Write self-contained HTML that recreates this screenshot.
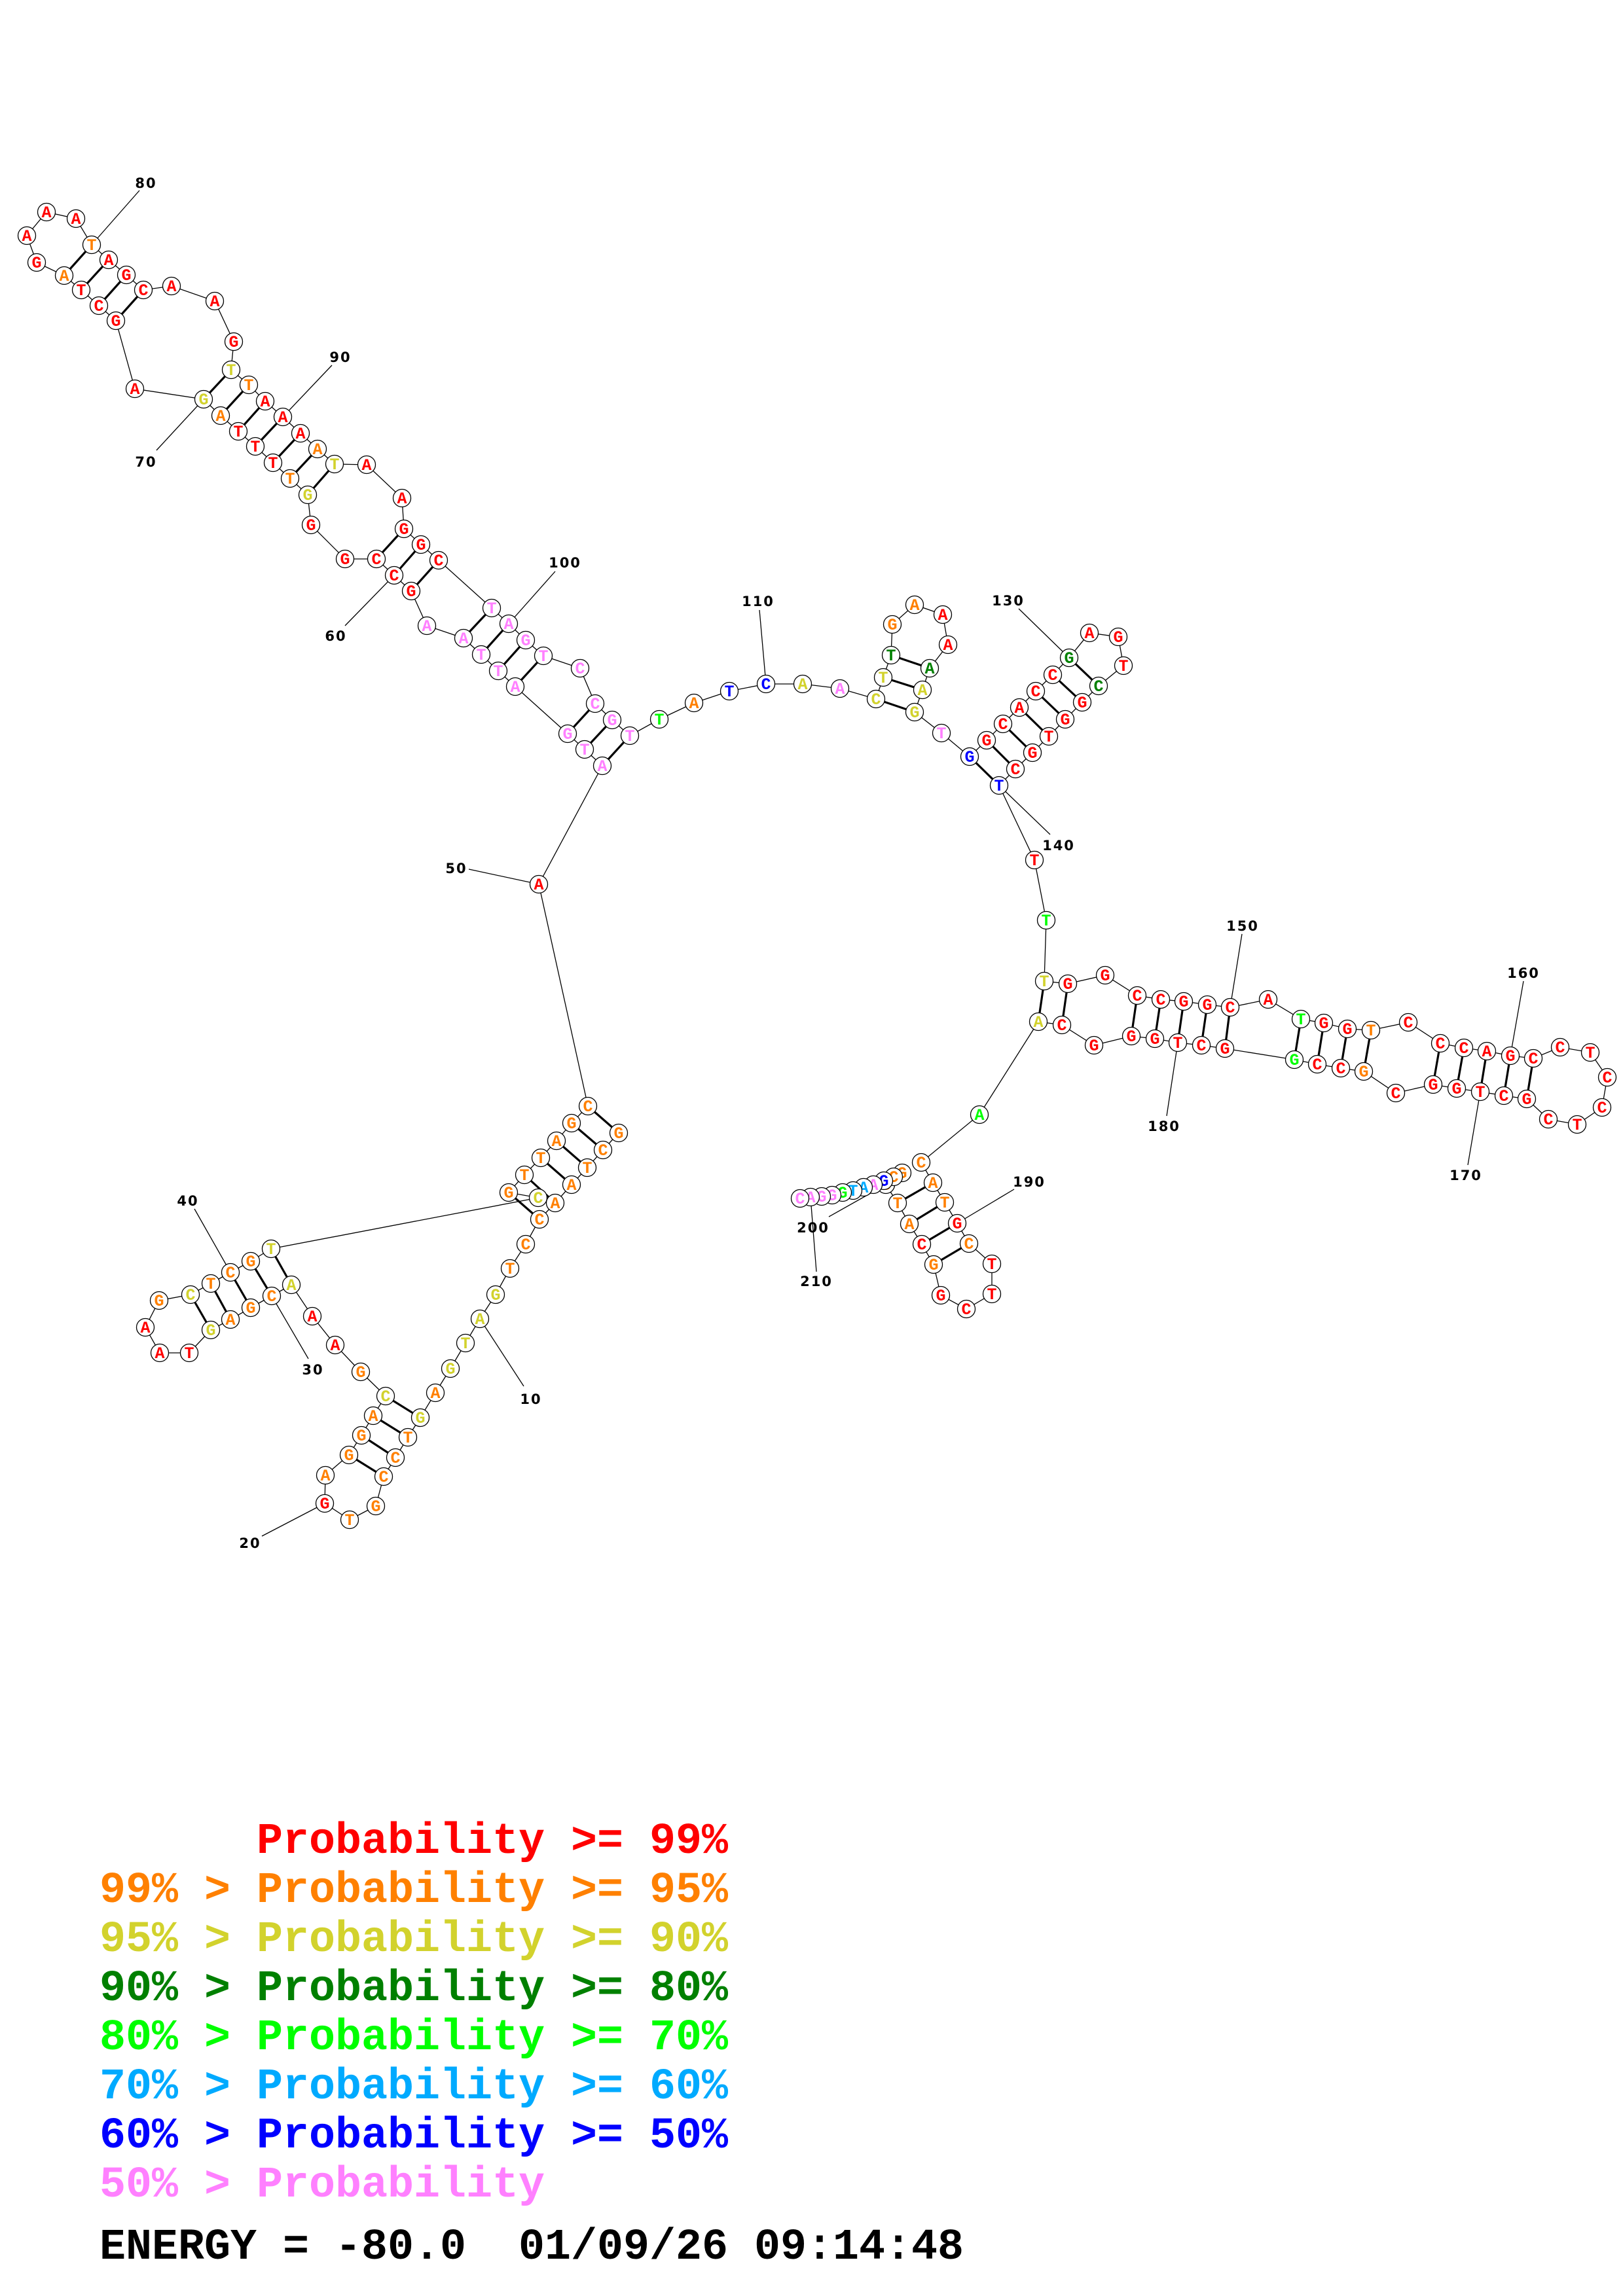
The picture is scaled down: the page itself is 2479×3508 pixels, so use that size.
<!DOCTYPE html>
<html><head><meta charset="utf-8"><style>
html,body{margin:0;padding:0;background:#fff}
svg{display:block}
circle{fill:#fff;stroke:#000;stroke-width:1.3}
text.n{font-family:"Liberation Mono",monospace;font-weight:bold;font-size:25px;text-anchor:middle}
text.lb{font-family:"DejaVu Sans",sans-serif;font-weight:bold;font-size:21px;text-anchor:middle;letter-spacing:2px;fill:#000}
text.lg{font-family:"Liberation Mono",monospace;font-weight:bold;font-size:66.67px}
.r{fill:#ff0000}.o{fill:#ff8000}.y{fill:#d2d22d}.d{fill:#008000}.g{fill:#00ff00}.l{fill:#00aaff}.b{fill:#0000ff}.p{fill:#ff80ff}.k{fill:#000}
</style></head><body>
<svg width="2479" height="3508" viewBox="0 0 2479 3508" xmlns="http://www.w3.org/2000/svg">
<rect width="2479" height="3508" fill="#fff"/>
<!-- label lines -->
<path fill="none" stroke="#000" stroke-width="1.3" d="M733,2015L800,2118M496,2297L400,2347M415,1980L471,2076M352,1944L297,1847M823,1351L716,1328M602,879L527,956M311,610L239,688M140,374L213,291M432,637L507,558M777,953L848,873M1170,1045L1160,932M1633,1005L1556,930M1526,1200L1604,1275M1879,1539L1897,1427M2307,1613L2327,1499M2261,1668L2242,1780M1799,1593L1782,1705M1462,1869L1549,1817M1353,1810L1266,1859M1238,1829L1247,1943"/>
<!-- backbone -->
<polyline fill="none" stroke="#000" stroke-width="1.3" points="945,1731 921,1757 897,1784 873,1810 848,1838 824,1863 803,1901 779,1938 757,1978 733,2015 711,2052 688,2091 665,2128 642,2166 623,2196 604,2227 586,2256 574,2301 534,2322 496,2297 497,2254 533,2223 552,2193 570,2163 589,2133 551,2096 512,2055 477,2011 445,1963 415,1980 383,1998 352,2016 322,2032 289,2067 244,2067 222,2028 243,1987 291,1978 322,1961 352,1944 383,1927 414,1908 822,1830 777,1822 801,1795 826,1769 850,1743 873,1716 898,1690 823,1351 920,1170 893,1145 867,1121 787,1049 761,1025 735,1000 708,975 652,956 628,903 602,879 575,854 527,854 475,802 470,756 443,731 417,707 390,682 364,659 337,635 311,610 206,594 177,490 151,467 124,443 98,421 56,401 41,360 71,324 116,334 140,374 166,397 193,420 219,443 262,437 328,460 357,522 353,565 380,588 405,613 432,637 459,662 485,686 511,709 560,710 614,761 617,808 643,832 670,856 751,929 777,953 803,978 830,1002 886,1021 909,1075 935,1100 962,1124 1007,1099 1060,1074 1114,1056 1170,1045 1226,1045 1283,1052 1338,1068 1349,1035 1361,1001 1363,954 1397,924 1440,939 1448,985 1420,1021 1409,1054 1397,1088 1438,1120 1481,1156 1507,1131 1532,1106 1557,1081 1582,1056 1608,1031 1633,1005 1664,967 1708,973 1716,1017 1678,1048 1653,1073 1627,1099 1602,1125 1577,1150 1551,1175 1526,1200 1580,1314 1598,1406 1595,1499 1631,1503 1688,1490 1737,1521 1773,1527 1808,1530 1844,1535 1879,1539 1937,1527 1987,1557 2022,1563 2058,1572 2094,1574 2151,1562 2200,1594 2236,1601 2271,1606 2307,1613 2342,1617 2383,1600 2429,1608 2455,1646 2447,1692 2409,1718 2365,1710 2332,1679 2297,1674 2261,1668 2225,1663 2189,1657 2132,1670 2083,1637 2048,1632 2012,1626 1977,1619 1871,1602 1835,1597 1799,1593 1764,1587 1728,1583 1671,1597 1622,1566 1586,1561 1496,1703 1407,1776 1425,1807 1443,1837 1462,1869 1480,1900 1515,1931 1515,1977 1476,2000 1437,1979 1426,1932 1408,1901 1389,1870 1371,1838 1353,1810 1378,1792 1365,1798 1350,1804 1334,1810 1319,1814 1303,1819 1287,1822 1271,1826 1255,1828 1238,1829 1222,1831"/>
<!-- pairs -->
<path fill="none" stroke="#000" stroke-width="3.2" d="M945,1731L898,1690M921,1757L873,1716M897,1784L850,1743M873,1810L826,1769M848,1838L801,1795M824,1863L777,1822
M642,2166L589,2133M623,2196L570,2163M604,2227L552,2193M586,2256L533,2223
M445,1963L414,1908M415,1980L383,1927M383,1998L352,1944M352,2016L322,1961M322,2032L291,1978
M920,1170L962,1124M893,1145L935,1100M867,1121L909,1075M787,1049L830,1002M761,1025L803,978M735,1000L777,953M708,975L751,929
M628,903L670,856M602,879L643,832M575,854L617,808
M470,756L511,709M443,731L485,686M417,707L459,662M390,682L432,637M364,659L405,613M337,635L380,588M311,610L353,565
M177,490L219,443M151,467L193,420M124,443L166,397M98,421L140,374
M1338,1068L1397,1088M1349,1035L1409,1054M1361,1001L1420,1021
M1481,1156L1526,1200M1507,1131L1551,1175M1532,1106L1577,1150M1557,1081L1602,1125M1582,1056L1627,1099M1608,1031L1653,1073M1633,1005L1678,1048
M1595,1499L1586,1561M1631,1503L1622,1566M1737,1521L1728,1583M1773,1527L1764,1587M1808,1530L1799,1593M1844,1535L1835,1597M1879,1539L1871,1602M1987,1557L1977,1619M2022,1563L2012,1626M2058,1572L2048,1632M2094,1574L2083,1637M2200,1594L2189,1657M2236,1601L2225,1663M2271,1606L2261,1668M2307,1613L2297,1674M2342,1617L2332,1679
M1425,1807L1371,1838M1443,1837L1389,1870M1462,1869L1408,1901M1480,1900L1426,1932"/>
<!-- nodes -->
<g>
<circle cx="945" cy="1731" r="13.5"/><text class="n o" x="945" y="1739">G</text>
<circle cx="921" cy="1757" r="13.5"/><text class="n o" x="921" y="1765">C</text>
<circle cx="897" cy="1784" r="13.5"/><text class="n o" x="897" y="1792">T</text>
<circle cx="873" cy="1810" r="13.5"/><text class="n o" x="873" y="1818">A</text>
<circle cx="848" cy="1838" r="13.5"/><text class="n o" x="848" y="1846">A</text>
<circle cx="824" cy="1863" r="13.5"/><text class="n o" x="824" y="1871">C</text>
<circle cx="803" cy="1901" r="13.5"/><text class="n o" x="803" y="1909">C</text>
<circle cx="779" cy="1938" r="13.5"/><text class="n o" x="779" y="1946">T</text>
<circle cx="757" cy="1978" r="13.5"/><text class="n y" x="757" y="1986">G</text>
<circle cx="733" cy="2015" r="13.5"/><text class="n y" x="733" y="2023">A</text>
<circle cx="711" cy="2052" r="13.5"/><text class="n y" x="711" y="2060">T</text>
<circle cx="688" cy="2091" r="13.5"/><text class="n y" x="688" y="2099">G</text>
<circle cx="665" cy="2128" r="13.5"/><text class="n o" x="665" y="2136">A</text>
<circle cx="642" cy="2166" r="13.5"/><text class="n y" x="642" y="2174">G</text>
<circle cx="623" cy="2196" r="13.5"/><text class="n o" x="623" y="2204">T</text>
<circle cx="604" cy="2227" r="13.5"/><text class="n o" x="604" y="2235">C</text>
<circle cx="586" cy="2256" r="13.5"/><text class="n o" x="586" y="2264">C</text>
<circle cx="574" cy="2301" r="13.5"/><text class="n o" x="574" y="2309">G</text>
<circle cx="534" cy="2322" r="13.5"/><text class="n o" x="534" y="2330">T</text>
<circle cx="496" cy="2297" r="13.5"/><text class="n r" x="496" y="2305">G</text>
<circle cx="497" cy="2254" r="13.5"/><text class="n o" x="497" y="2262">A</text>
<circle cx="533" cy="2223" r="13.5"/><text class="n o" x="533" y="2231">G</text>
<circle cx="552" cy="2193" r="13.5"/><text class="n o" x="552" y="2201">G</text>
<circle cx="570" cy="2163" r="13.5"/><text class="n o" x="570" y="2171">A</text>
<circle cx="589" cy="2133" r="13.5"/><text class="n y" x="589" y="2141">C</text>
<circle cx="551" cy="2096" r="13.5"/><text class="n o" x="551" y="2104">G</text>
<circle cx="512" cy="2055" r="13.5"/><text class="n r" x="512" y="2063">A</text>
<circle cx="477" cy="2011" r="13.5"/><text class="n r" x="477" y="2019">A</text>
<circle cx="445" cy="1963" r="13.5"/><text class="n y" x="445" y="1971">A</text>
<circle cx="415" cy="1980" r="13.5"/><text class="n o" x="415" y="1988">C</text>
<circle cx="383" cy="1998" r="13.5"/><text class="n o" x="383" y="2006">G</text>
<circle cx="352" cy="2016" r="13.5"/><text class="n o" x="352" y="2024">A</text>
<circle cx="322" cy="2032" r="13.5"/><text class="n y" x="322" y="2040">G</text>
<circle cx="289" cy="2067" r="13.5"/><text class="n r" x="289" y="2075">T</text>
<circle cx="244" cy="2067" r="13.5"/><text class="n r" x="244" y="2075">A</text>
<circle cx="222" cy="2028" r="13.5"/><text class="n r" x="222" y="2036">A</text>
<circle cx="243" cy="1987" r="13.5"/><text class="n o" x="243" y="1995">G</text>
<circle cx="291" cy="1978" r="13.5"/><text class="n y" x="291" y="1986">C</text>
<circle cx="322" cy="1961" r="13.5"/><text class="n o" x="322" y="1969">T</text>
<circle cx="352" cy="1944" r="13.5"/><text class="n o" x="352" y="1952">C</text>
<circle cx="383" cy="1927" r="13.5"/><text class="n o" x="383" y="1935">G</text>
<circle cx="414" cy="1908" r="13.5"/><text class="n y" x="414" y="1916">T</text>
<circle cx="822" cy="1830" r="13.5"/><text class="n y" x="822" y="1838">C</text>
<circle cx="777" cy="1822" r="13.5"/><text class="n o" x="777" y="1830">G</text>
<circle cx="801" cy="1795" r="13.5"/><text class="n o" x="801" y="1803">T</text>
<circle cx="826" cy="1769" r="13.5"/><text class="n o" x="826" y="1777">T</text>
<circle cx="850" cy="1743" r="13.5"/><text class="n o" x="850" y="1751">A</text>
<circle cx="873" cy="1716" r="13.5"/><text class="n o" x="873" y="1724">G</text>
<circle cx="898" cy="1690" r="13.5"/><text class="n o" x="898" y="1698">C</text>
<circle cx="823" cy="1351" r="13.5"/><text class="n r" x="823" y="1359">A</text>
<circle cx="920" cy="1170" r="13.5"/><text class="n p" x="920" y="1178">A</text>
<circle cx="893" cy="1145" r="13.5"/><text class="n p" x="893" y="1153">T</text>
<circle cx="867" cy="1121" r="13.5"/><text class="n p" x="867" y="1129">G</text>
<circle cx="787" cy="1049" r="13.5"/><text class="n p" x="787" y="1057">A</text>
<circle cx="761" cy="1025" r="13.5"/><text class="n p" x="761" y="1033">T</text>
<circle cx="735" cy="1000" r="13.5"/><text class="n p" x="735" y="1008">T</text>
<circle cx="708" cy="975" r="13.5"/><text class="n p" x="708" y="983">A</text>
<circle cx="652" cy="956" r="13.5"/><text class="n p" x="652" y="964">A</text>
<circle cx="628" cy="903" r="13.5"/><text class="n r" x="628" y="911">G</text>
<circle cx="602" cy="879" r="13.5"/><text class="n r" x="602" y="887">C</text>
<circle cx="575" cy="854" r="13.5"/><text class="n r" x="575" y="862">C</text>
<circle cx="527" cy="854" r="13.5"/><text class="n r" x="527" y="862">G</text>
<circle cx="475" cy="802" r="13.5"/><text class="n r" x="475" y="810">G</text>
<circle cx="470" cy="756" r="13.5"/><text class="n y" x="470" y="764">G</text>
<circle cx="443" cy="731" r="13.5"/><text class="n o" x="443" y="739">T</text>
<circle cx="417" cy="707" r="13.5"/><text class="n r" x="417" y="715">T</text>
<circle cx="390" cy="682" r="13.5"/><text class="n r" x="390" y="690">T</text>
<circle cx="364" cy="659" r="13.5"/><text class="n r" x="364" y="667">T</text>
<circle cx="337" cy="635" r="13.5"/><text class="n o" x="337" y="643">A</text>
<circle cx="311" cy="610" r="13.5"/><text class="n y" x="311" y="618">G</text>
<circle cx="206" cy="594" r="13.5"/><text class="n r" x="206" y="602">A</text>
<circle cx="177" cy="490" r="13.5"/><text class="n r" x="177" y="498">G</text>
<circle cx="151" cy="467" r="13.5"/><text class="n r" x="151" y="475">C</text>
<circle cx="124" cy="443" r="13.5"/><text class="n r" x="124" y="451">T</text>
<circle cx="98" cy="421" r="13.5"/><text class="n o" x="98" y="429">A</text>
<circle cx="56" cy="401" r="13.5"/><text class="n r" x="56" y="409">G</text>
<circle cx="41" cy="360" r="13.5"/><text class="n r" x="41" y="368">A</text>
<circle cx="71" cy="324" r="13.5"/><text class="n r" x="71" y="332">A</text>
<circle cx="116" cy="334" r="13.5"/><text class="n r" x="116" y="342">A</text>
<circle cx="140" cy="374" r="13.5"/><text class="n o" x="140" y="382">T</text>
<circle cx="166" cy="397" r="13.5"/><text class="n r" x="166" y="405">A</text>
<circle cx="193" cy="420" r="13.5"/><text class="n r" x="193" y="428">G</text>
<circle cx="219" cy="443" r="13.5"/><text class="n r" x="219" y="451">C</text>
<circle cx="262" cy="437" r="13.5"/><text class="n r" x="262" y="445">A</text>
<circle cx="328" cy="460" r="13.5"/><text class="n r" x="328" y="468">A</text>
<circle cx="357" cy="522" r="13.5"/><text class="n r" x="357" y="530">G</text>
<circle cx="353" cy="565" r="13.5"/><text class="n y" x="353" y="573">T</text>
<circle cx="380" cy="588" r="13.5"/><text class="n o" x="380" y="596">T</text>
<circle cx="405" cy="613" r="13.5"/><text class="n r" x="405" y="621">A</text>
<circle cx="432" cy="637" r="13.5"/><text class="n r" x="432" y="645">A</text>
<circle cx="459" cy="662" r="13.5"/><text class="n r" x="459" y="670">A</text>
<circle cx="485" cy="686" r="13.5"/><text class="n o" x="485" y="694">A</text>
<circle cx="511" cy="709" r="13.5"/><text class="n y" x="511" y="717">T</text>
<circle cx="560" cy="710" r="13.5"/><text class="n r" x="560" y="718">A</text>
<circle cx="614" cy="761" r="13.5"/><text class="n r" x="614" y="769">A</text>
<circle cx="617" cy="808" r="13.5"/><text class="n r" x="617" y="816">G</text>
<circle cx="643" cy="832" r="13.5"/><text class="n r" x="643" y="840">G</text>
<circle cx="670" cy="856" r="13.5"/><text class="n r" x="670" y="864">C</text>
<circle cx="751" cy="929" r="13.5"/><text class="n p" x="751" y="937">T</text>
<circle cx="777" cy="953" r="13.5"/><text class="n p" x="777" y="961">A</text>
<circle cx="803" cy="978" r="13.5"/><text class="n p" x="803" y="986">G</text>
<circle cx="830" cy="1002" r="13.5"/><text class="n p" x="830" y="1010">T</text>
<circle cx="886" cy="1021" r="13.5"/><text class="n p" x="886" y="1029">C</text>
<circle cx="909" cy="1075" r="13.5"/><text class="n p" x="909" y="1083">C</text>
<circle cx="935" cy="1100" r="13.5"/><text class="n p" x="935" y="1108">G</text>
<circle cx="962" cy="1124" r="13.5"/><text class="n p" x="962" y="1132">T</text>
<circle cx="1007" cy="1099" r="13.5"/><text class="n g" x="1007" y="1107">T</text>
<circle cx="1060" cy="1074" r="13.5"/><text class="n o" x="1060" y="1082">A</text>
<circle cx="1114" cy="1056" r="13.5"/><text class="n b" x="1114" y="1064">T</text>
<circle cx="1170" cy="1045" r="13.5"/><text class="n b" x="1170" y="1053">C</text>
<circle cx="1226" cy="1045" r="13.5"/><text class="n y" x="1226" y="1053">A</text>
<circle cx="1283" cy="1052" r="13.5"/><text class="n p" x="1283" y="1060">A</text>
<circle cx="1338" cy="1068" r="13.5"/><text class="n y" x="1338" y="1076">C</text>
<circle cx="1349" cy="1035" r="13.5"/><text class="n y" x="1349" y="1043">T</text>
<circle cx="1361" cy="1001" r="13.5"/><text class="n d" x="1361" y="1009">T</text>
<circle cx="1363" cy="954" r="13.5"/><text class="n o" x="1363" y="962">G</text>
<circle cx="1397" cy="924" r="13.5"/><text class="n o" x="1397" y="932">A</text>
<circle cx="1440" cy="939" r="13.5"/><text class="n r" x="1440" y="947">A</text>
<circle cx="1448" cy="985" r="13.5"/><text class="n r" x="1448" y="993">A</text>
<circle cx="1420" cy="1021" r="13.5"/><text class="n d" x="1420" y="1029">A</text>
<circle cx="1409" cy="1054" r="13.5"/><text class="n y" x="1409" y="1062">A</text>
<circle cx="1397" cy="1088" r="13.5"/><text class="n y" x="1397" y="1096">G</text>
<circle cx="1438" cy="1120" r="13.5"/><text class="n p" x="1438" y="1128">T</text>
<circle cx="1481" cy="1156" r="13.5"/><text class="n b" x="1481" y="1164">G</text>
<circle cx="1507" cy="1131" r="13.5"/><text class="n r" x="1507" y="1139">G</text>
<circle cx="1532" cy="1106" r="13.5"/><text class="n r" x="1532" y="1114">C</text>
<circle cx="1557" cy="1081" r="13.5"/><text class="n r" x="1557" y="1089">A</text>
<circle cx="1582" cy="1056" r="13.5"/><text class="n r" x="1582" y="1064">C</text>
<circle cx="1608" cy="1031" r="13.5"/><text class="n r" x="1608" y="1039">C</text>
<circle cx="1633" cy="1005" r="13.5"/><text class="n d" x="1633" y="1013">G</text>
<circle cx="1664" cy="967" r="13.5"/><text class="n r" x="1664" y="975">A</text>
<circle cx="1708" cy="973" r="13.5"/><text class="n r" x="1708" y="981">G</text>
<circle cx="1716" cy="1017" r="13.5"/><text class="n r" x="1716" y="1025">T</text>
<circle cx="1678" cy="1048" r="13.5"/><text class="n d" x="1678" y="1056">C</text>
<circle cx="1653" cy="1073" r="13.5"/><text class="n r" x="1653" y="1081">G</text>
<circle cx="1627" cy="1099" r="13.5"/><text class="n r" x="1627" y="1107">G</text>
<circle cx="1602" cy="1125" r="13.5"/><text class="n r" x="1602" y="1133">T</text>
<circle cx="1577" cy="1150" r="13.5"/><text class="n r" x="1577" y="1158">G</text>
<circle cx="1551" cy="1175" r="13.5"/><text class="n r" x="1551" y="1183">C</text>
<circle cx="1526" cy="1200" r="13.5"/><text class="n b" x="1526" y="1208">T</text>
<circle cx="1580" cy="1314" r="13.5"/><text class="n r" x="1580" y="1322">T</text>
<circle cx="1598" cy="1406" r="13.5"/><text class="n g" x="1598" y="1414">T</text>
<circle cx="1595" cy="1499" r="13.5"/><text class="n y" x="1595" y="1507">T</text>
<circle cx="1631" cy="1503" r="13.5"/><text class="n r" x="1631" y="1511">G</text>
<circle cx="1688" cy="1490" r="13.5"/><text class="n r" x="1688" y="1498">G</text>
<circle cx="1737" cy="1521" r="13.5"/><text class="n r" x="1737" y="1529">C</text>
<circle cx="1773" cy="1527" r="13.5"/><text class="n r" x="1773" y="1535">C</text>
<circle cx="1808" cy="1530" r="13.5"/><text class="n r" x="1808" y="1538">G</text>
<circle cx="1844" cy="1535" r="13.5"/><text class="n r" x="1844" y="1543">G</text>
<circle cx="1879" cy="1539" r="13.5"/><text class="n r" x="1879" y="1547">C</text>
<circle cx="1937" cy="1527" r="13.5"/><text class="n r" x="1937" y="1535">A</text>
<circle cx="1987" cy="1557" r="13.5"/><text class="n g" x="1987" y="1565">T</text>
<circle cx="2022" cy="1563" r="13.5"/><text class="n r" x="2022" y="1571">G</text>
<circle cx="2058" cy="1572" r="13.5"/><text class="n r" x="2058" y="1580">G</text>
<circle cx="2094" cy="1574" r="13.5"/><text class="n o" x="2094" y="1582">T</text>
<circle cx="2151" cy="1562" r="13.5"/><text class="n r" x="2151" y="1570">C</text>
<circle cx="2200" cy="1594" r="13.5"/><text class="n r" x="2200" y="1602">C</text>
<circle cx="2236" cy="1601" r="13.5"/><text class="n r" x="2236" y="1609">C</text>
<circle cx="2271" cy="1606" r="13.5"/><text class="n r" x="2271" y="1614">A</text>
<circle cx="2307" cy="1613" r="13.5"/><text class="n r" x="2307" y="1621">G</text>
<circle cx="2342" cy="1617" r="13.5"/><text class="n r" x="2342" y="1625">C</text>
<circle cx="2383" cy="1600" r="13.5"/><text class="n r" x="2383" y="1608">C</text>
<circle cx="2429" cy="1608" r="13.5"/><text class="n r" x="2429" y="1616">T</text>
<circle cx="2455" cy="1646" r="13.5"/><text class="n r" x="2455" y="1654">C</text>
<circle cx="2447" cy="1692" r="13.5"/><text class="n r" x="2447" y="1700">C</text>
<circle cx="2409" cy="1718" r="13.5"/><text class="n r" x="2409" y="1726">T</text>
<circle cx="2365" cy="1710" r="13.5"/><text class="n r" x="2365" y="1718">C</text>
<circle cx="2332" cy="1679" r="13.5"/><text class="n r" x="2332" y="1687">G</text>
<circle cx="2297" cy="1674" r="13.5"/><text class="n r" x="2297" y="1682">C</text>
<circle cx="2261" cy="1668" r="13.5"/><text class="n r" x="2261" y="1676">T</text>
<circle cx="2225" cy="1663" r="13.5"/><text class="n r" x="2225" y="1671">G</text>
<circle cx="2189" cy="1657" r="13.5"/><text class="n r" x="2189" y="1665">G</text>
<circle cx="2132" cy="1670" r="13.5"/><text class="n r" x="2132" y="1678">C</text>
<circle cx="2083" cy="1637" r="13.5"/><text class="n o" x="2083" y="1645">G</text>
<circle cx="2048" cy="1632" r="13.5"/><text class="n r" x="2048" y="1640">C</text>
<circle cx="2012" cy="1626" r="13.5"/><text class="n r" x="2012" y="1634">C</text>
<circle cx="1977" cy="1619" r="13.5"/><text class="n g" x="1977" y="1627">G</text>
<circle cx="1871" cy="1602" r="13.5"/><text class="n r" x="1871" y="1610">G</text>
<circle cx="1835" cy="1597" r="13.5"/><text class="n r" x="1835" y="1605">C</text>
<circle cx="1799" cy="1593" r="13.5"/><text class="n r" x="1799" y="1601">T</text>
<circle cx="1764" cy="1587" r="13.5"/><text class="n r" x="1764" y="1595">G</text>
<circle cx="1728" cy="1583" r="13.5"/><text class="n r" x="1728" y="1591">G</text>
<circle cx="1671" cy="1597" r="13.5"/><text class="n r" x="1671" y="1605">G</text>
<circle cx="1622" cy="1566" r="13.5"/><text class="n r" x="1622" y="1574">C</text>
<circle cx="1586" cy="1561" r="13.5"/><text class="n y" x="1586" y="1569">A</text>
<circle cx="1496" cy="1703" r="13.5"/><text class="n g" x="1496" y="1711">A</text>
<circle cx="1407" cy="1776" r="13.5"/><text class="n o" x="1407" y="1784">C</text>
<circle cx="1425" cy="1807" r="13.5"/><text class="n o" x="1425" y="1815">A</text>
<circle cx="1443" cy="1837" r="13.5"/><text class="n o" x="1443" y="1845">T</text>
<circle cx="1462" cy="1869" r="13.5"/><text class="n r" x="1462" y="1877">G</text>
<circle cx="1480" cy="1900" r="13.5"/><text class="n o" x="1480" y="1908">C</text>
<circle cx="1515" cy="1931" r="13.5"/><text class="n r" x="1515" y="1939">T</text>
<circle cx="1515" cy="1977" r="13.5"/><text class="n r" x="1515" y="1985">T</text>
<circle cx="1476" cy="2000" r="13.5"/><text class="n r" x="1476" y="2008">C</text>
<circle cx="1437" cy="1979" r="13.5"/><text class="n r" x="1437" y="1987">G</text>
<circle cx="1426" cy="1932" r="13.5"/><text class="n o" x="1426" y="1940">G</text>
<circle cx="1408" cy="1901" r="13.5"/><text class="n r" x="1408" y="1909">C</text>
<circle cx="1389" cy="1870" r="13.5"/><text class="n o" x="1389" y="1878">A</text>
<circle cx="1371" cy="1838" r="13.5"/><text class="n o" x="1371" y="1846">T</text>
<circle cx="1353" cy="1810" r="13.5"/><text class="n o" x="1353" y="1818">G</text>
<circle cx="1378" cy="1792" r="13.5"/><text class="n o" x="1378" y="1800">G</text>
<circle cx="1365" cy="1798" r="13.5"/><text class="n o" x="1365" y="1806">C</text>
<circle cx="1350" cy="1804" r="13.5"/><text class="n b" x="1350" y="1812">G</text>
<circle cx="1334" cy="1810" r="13.5"/><text class="n p" x="1334" y="1818">A</text>
<circle cx="1319" cy="1814" r="13.5"/><text class="n l" x="1319" y="1822">A</text>
<circle cx="1303" cy="1819" r="13.5"/><text class="n l" x="1303" y="1827">T</text>
<circle cx="1287" cy="1822" r="13.5"/><text class="n g" x="1287" y="1830">G</text>
<circle cx="1271" cy="1826" r="13.5"/><text class="n p" x="1271" y="1834">G</text>
<circle cx="1255" cy="1828" r="13.5"/><text class="n p" x="1255" y="1836">G</text>
<circle cx="1238" cy="1829" r="13.5"/><text class="n p" x="1238" y="1837">A</text>
<circle cx="1222" cy="1831" r="13.5"/><text class="n p" x="1222" y="1839">C</text>
</g>
<!-- number labels -->
<g>
<text class="lb" x="811" y="2145">10</text>
<text class="lb" x="382" y="2365">20</text>
<text class="lb" x="478" y="2100">30</text>
<text class="lb" x="287" y="1842">40</text>
<text class="lb" x="697" y="1334">50</text>
<text class="lb" x="513" y="979">60</text>
<text class="lb" x="223" y="713">70</text>
<text class="lb" x="223" y="287">80</text>
<text class="lb" x="520" y="553">90</text>
<text class="lb" x="863" y="867">100</text>
<text class="lb" x="1158" y="926">110</text>
<text class="lb" x="1540" y="925">130</text>
<text class="lb" x="1617" y="1299">140</text>
<text class="lb" x="1898" y="1422">150</text>
<text class="lb" x="2327" y="1494">160</text>
<text class="lb" x="2239" y="1803">170</text>
<text class="lb" x="1778" y="1728">180</text>
<text class="lb" x="1572" y="1813">190</text>
<text class="lb" x="1242" y="1883">200</text>
<text class="lb" x="1247" y="1965">210</text>
</g>
<!-- legend -->
<g>
<text class="lg r" x="392" y="2831">Probability &gt;= 99%</text>
<text class="lg o" x="152" y="2906">99% &gt; Probability &gt;= 95%</text>
<text class="lg y" x="152" y="2981">95% &gt; Probability &gt;= 90%</text>
<text class="lg d" x="152" y="3056">90% &gt; Probability &gt;= 80%</text>
<text class="lg g" x="152" y="3131">80% &gt; Probability &gt;= 70%</text>
<text class="lg l" x="152" y="3206">70% &gt; Probability &gt;= 60%</text>
<text class="lg b" x="152" y="3281">60% &gt; Probability &gt;= 50%</text>
<text class="lg p" x="152" y="3356">50% &gt; Probability</text>
<text class="lg k" x="152" y="3451">ENERGY = -80.0</text>
<text class="lg k" x="792" y="3451">01/09/26 09:14:48</text>
</g>
</svg>
</body></html>
